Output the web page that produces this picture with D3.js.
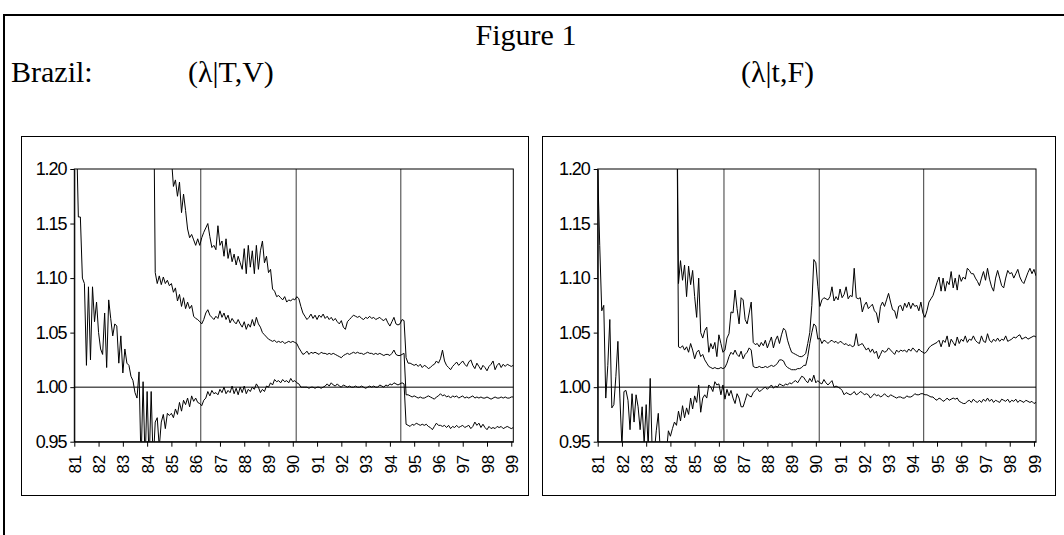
<!DOCTYPE html>
<html>
<head>
<meta charset="utf-8">
<script src="https://cdn.jsdelivr.net/npm/d3@7"></script>
<style>
  html, body { margin: 0; padding: 0; background: #fff; }
  svg { display: block; }
  .tick text { font-family: "Liberation Sans", Arial, sans-serif; }
</style>
</head>
<body>
<svg id="chart" width="1064" height="535"></svg>
<script>
// ---------- DATA ----------
const yearLabels = ["81","82","83","84","85","86","87","88","89","90","91","92","93","94","95","96","97","98","99"];
const yTickValues = [0.95, 1.00, 1.05, 1.10, 1.15, 1.20];
const yTickLabels = ["0.95", "1.00", "1.05", "1.10", "1.15", "1.20"];
const planDates = [1986.21, 1990.14, 1994.45];   // vertical reference lines
const firstYear = 1981;                           // monthly data, month 0 = 1981:01

// Left panel (λ|T,V): lower, middle, upper lines
const leftLowerStart = 0;
const leftLower = [1.30,1.24,1.156,1.156,1.10,1.095,1.02,1.092,1.025,1.092,
 1.06,1.078,1.05,1.035,1.03,1.068,1.018,1.08,1.063,1.047,
 1.058,1.056,1.022,1.047,1.013,1.035,1.022,1.02,1.01,1.006,
 0.995,0.99,1.014,0.93,1.005,0.93,0.996,0.93,0.996,0.93,
 0.968,0.972,0.945,0.968,0.975,0.962,0.976,0.974,0.976,0.972,
 0.98,0.975,0.986,0.978,0.988,0.984,0.99,0.982,0.992,0.987,
 0.99,0.986,0.985,0.983,0.988,0.99,0.996,0.992,0.997,0.994,
 0.995,0.993,0.998,0.995,1.0,0.994,0.997,0.995,1.001,0.994,
 0.999,0.993,1.0,0.995,1.001,0.994,0.998,0.996,1.0,0.998,
 1.003,1.0,0.995,0.998,0.996,1.001,1.0,1.004,1.002,1.007,
 1.005,1.006,1.004,1.007,1.005,1.006,1.004,1.008,1.005,1.006,
 1.004,1.003,1.0,1.0,1.0,1.0,0.999,1.0,1.0,0.999,
 1.0,1.0,0.999,1.0,1.001,1.003,1.001,1.004,1.002,1.001,
 1.003,1.001,1.0,1.002,1.001,1.0,1.001,1.0,1.0,1.001,
 1.0,1.0,1.001,1.0,0.999,1.0,1.001,1.0,1.001,1.0,
 1.0,1.002,1.001,1.0,1.002,1.001,1.003,1.002,1.004,1.003,
 1.002,1.003,1.004,1.003,0.966,0.965,0.964,0.966,0.965,0.967,
 0.966,0.965,0.966,0.965,0.966,0.964,0.963,0.961,0.964,0.967,
 0.965,0.965,0.964,0.965,0.963,0.965,0.962,0.964,0.963,0.965,
 0.963,0.964,0.965,0.963,0.964,0.965,0.962,0.964,0.968,0.965,
 0.967,0.963,0.966,0.963,0.961,0.964,0.962,0.963,0.962,0.964,
 0.963,0.964,0.962,0.963,0.964,0.963,0.962,0.963];
const leftMiddleStart = 39;
const leftMiddle = [1.32,1.105,1.095,1.102,1.094,1.101,1.095,1.098,1.093,1.095,
 1.087,1.091,1.079,1.085,1.074,1.082,1.072,1.078,1.072,1.075,
 1.065,1.063,1.062,1.06,1.058,1.062,1.068,1.071,1.066,1.064,
 1.062,1.065,1.063,1.07,1.064,1.068,1.062,1.066,1.059,1.063,
 1.06,1.058,1.062,1.058,1.055,1.06,1.053,1.058,1.055,1.062,
 1.056,1.064,1.058,1.055,1.05,1.048,1.046,1.044,1.043,1.042,
 1.043,1.041,1.042,1.041,1.042,1.04,1.041,1.042,1.041,1.042,
 1.041,1.04,1.036,1.033,1.03,1.031,1.033,1.03,1.032,1.031,
 1.032,1.031,1.03,1.032,1.031,1.031,1.03,1.031,1.03,1.031,
 1.03,1.029,1.028,1.027,1.029,1.03,1.031,1.03,1.031,1.032,
 1.031,1.032,1.031,1.031,1.03,1.031,1.032,1.031,1.031,1.03,
 1.031,1.03,1.031,1.03,1.029,1.03,1.03,1.029,1.031,1.034,
 1.03,1.029,1.029,1.03,1.031,0.993,0.993,0.992,0.991,0.992,
 0.991,0.99,0.991,0.99,0.99,0.991,0.992,0.991,0.99,0.989,
 0.991,0.992,0.994,0.992,0.993,0.991,0.992,0.99,0.992,0.991,
 0.992,0.99,0.991,0.992,0.99,0.991,0.99,0.991,0.992,0.99,
 0.991,0.99,0.991,0.99,0.99,0.991,0.99,0.989,0.99,0.991,
 0.99,0.99,0.991,0.99,0.991,0.99,0.99,0.991,0.991];
const leftUpperStart = 47;
const leftUpper = [1.30,1.21,1.184,1.19,1.175,1.188,1.16,1.177,1.162,1.145,
 1.137,1.14,1.135,1.13,1.136,1.13,1.137,1.142,1.146,1.15,
 1.138,1.128,1.13,1.126,1.148,1.13,1.134,1.12,1.136,1.118,
 1.127,1.115,1.122,1.112,1.12,1.114,1.108,1.127,1.104,1.13,
 1.11,1.125,1.104,1.13,1.108,1.125,1.134,1.114,1.12,1.105,
 1.108,1.09,1.088,1.083,1.084,1.082,1.08,1.083,1.078,1.08,
 1.079,1.081,1.08,1.083,1.081,1.074,1.068,1.065,1.062,1.064,
 1.067,1.063,1.066,1.062,1.066,1.064,1.067,1.063,1.065,1.062,
 1.064,1.061,1.063,1.06,1.058,1.061,1.055,1.053,1.06,1.062,
 1.064,1.066,1.065,1.064,1.065,1.063,1.062,1.064,1.063,1.065,
 1.063,1.064,1.062,1.063,1.064,1.062,1.061,1.063,1.059,1.056,
 1.06,1.064,1.058,1.057,1.058,1.062,1.061,1.027,1.022,1.022,
 1.021,1.02,1.021,1.019,1.021,1.018,1.02,1.019,1.017,1.018,
 1.02,1.021,1.024,1.022,1.026,1.034,1.024,1.02,1.018,1.016,
 1.019,1.021,1.023,1.02,1.022,1.024,1.021,1.019,1.023,1.025,
 1.02,1.017,1.022,1.019,1.016,1.02,1.018,1.015,1.019,1.021,
 1.024,1.016,1.02,1.022,1.018,1.021,1.019,1.021,1.02,1.019,
 1.02];

// Right panel (λ|t,F): lower, middle, upper lines
const rightLowerStart = 0;
const rightLower = [1.20,1.13,1.07,1.075,0.99,1.02,1.062,0.981,0.984,1.01,
 1.042,0.99,0.945,0.996,0.997,0.988,0.961,0.994,0.968,0.993,
 0.982,0.961,0.982,0.948,0.984,0.945,1.008,0.94,0.94,0.96,
 0.976,0.94,0.94,0.94,0.94,0.96,0.955,0.962,0.968,0.965,
 0.978,0.969,0.983,0.972,0.981,0.975,0.99,0.98,0.992,0.986,
 1.002,0.977,0.99,0.993,0.99,1.002,1.0,0.996,1.005,1.002,
 1.003,0.993,1.002,0.989,0.998,0.992,0.997,0.99,0.985,0.994,
 0.99,0.982,0.982,0.988,0.994,0.992,0.991,0.995,0.997,0.999,
 0.996,0.997,0.999,1.0,0.998,1.0,1.002,0.999,1.001,1.0,
 1.003,1.002,1.001,1.003,1.002,1.004,1.003,1.005,1.006,1.004,
 1.007,1.01,1.009,1.006,1.004,1.008,1.005,1.011,1.004,1.006,
 1.004,1.003,1.007,1.004,1.002,1.004,1.006,1.0,1.001,1.0,
 0.999,0.997,0.993,0.995,0.994,0.993,0.994,0.996,0.993,0.994,
 0.996,0.995,0.993,0.994,0.993,0.99,0.992,0.994,0.992,0.993,
 0.991,0.992,0.994,0.992,0.991,0.993,0.992,0.991,0.99,0.991,
 0.991,0.99,0.99,0.992,0.991,0.991,0.992,0.994,0.993,0.993,
 0.994,0.994,0.993,0.993,0.992,0.991,0.991,0.989,0.988,0.99,
 0.989,0.987,0.988,0.99,0.988,0.989,0.99,0.989,0.99,0.987,
 0.986,0.985,0.985,0.987,0.988,0.986,0.989,0.987,0.986,0.988,
 0.986,0.989,0.987,0.99,0.987,0.989,0.986,0.988,0.987,0.986,
 0.989,0.988,0.987,0.989,0.986,0.988,0.987,0.989,0.986,0.988,
 0.987,0.986,0.988,0.987,0.986,0.987,0.985,0.986];
const rightMiddleStart = 39;
const rightMiddle = [1.32,1.037,1.036,1.038,1.034,1.037,1.032,1.04,1.034,1.026,
 1.032,1.034,1.028,1.03,1.025,1.022,1.019,1.018,1.017,1.018,
 1.017,1.017,1.018,1.017,1.018,1.022,1.028,1.032,1.03,1.034,
 1.03,1.028,1.033,1.026,1.03,1.032,1.036,1.034,1.019,1.018,
 1.018,1.019,1.018,1.018,1.019,1.018,1.019,1.02,1.019,1.02,
 1.022,1.025,1.025,1.024,1.02,1.018,1.017,1.016,1.016,1.016,
 1.017,1.017,1.018,1.02,1.02,1.028,1.04,1.05,1.058,1.056,
 1.044,1.045,1.04,1.043,1.042,1.04,1.042,1.043,1.041,1.042,
 1.04,1.042,1.041,1.039,1.04,1.038,1.039,1.037,1.038,1.049,
 1.038,1.039,1.04,1.037,1.034,1.036,1.032,1.035,1.031,1.033,
 1.026,1.03,1.034,1.032,1.033,1.036,1.034,1.032,1.03,1.034,
 1.032,1.034,1.033,1.034,1.032,1.035,1.033,1.036,1.034,1.032,
 1.035,1.033,1.032,1.031,1.033,1.036,1.038,1.039,1.04,1.041,
 1.043,1.037,1.043,1.041,1.047,1.037,1.044,1.041,1.038,1.046,
 1.04,1.044,1.042,1.047,1.041,1.044,1.043,1.047,1.043,1.041,
 1.04,1.047,1.042,1.041,1.049,1.043,1.041,1.044,1.042,1.045,
 1.042,1.044,1.043,1.047,1.042,1.043,1.044,1.046,1.045,1.047,
 1.048,1.044,1.045,1.046,1.044,1.045,1.046,1.047,1.046];
const rightUpperStart = 39;
const rightUpper = [1.32,1.095,1.116,1.098,1.112,1.083,1.111,1.094,1.107,1.083,
 1.064,1.1,1.05,1.045,1.052,1.055,1.032,1.04,1.035,1.041,
 1.028,1.048,1.04,1.032,1.034,1.045,1.049,1.069,1.068,1.089,
 1.072,1.058,1.082,1.08,1.062,1.058,1.068,1.078,1.041,1.039,
 1.04,1.037,1.041,1.038,1.043,1.036,1.041,1.046,1.036,1.043,
 1.047,1.04,1.048,1.054,1.052,1.043,1.037,1.032,1.031,1.03,
 1.029,1.028,1.028,1.029,1.031,1.04,1.05,1.075,1.117,1.114,
 1.092,1.074,1.08,1.082,1.081,1.08,1.083,1.092,1.079,1.083,
 1.08,1.09,1.082,1.085,1.092,1.081,1.084,1.083,1.109,1.082,
 1.081,1.082,1.069,1.075,1.078,1.072,1.074,1.076,1.07,1.068,
 1.059,1.074,1.078,1.074,1.08,1.086,1.078,1.071,1.07,1.063,
 1.074,1.075,1.07,1.077,1.073,1.078,1.072,1.077,1.074,1.075,
 1.07,1.078,1.068,1.064,1.07,1.078,1.081,1.084,1.09,1.096,
 1.101,1.088,1.1,1.088,1.097,1.094,1.106,1.091,1.1,1.089,
 1.103,1.097,1.101,1.099,1.109,1.107,1.104,1.104,1.1,1.097,
 1.093,1.1,1.106,1.098,1.109,1.099,1.092,1.088,1.1,1.107,
 1.1,1.093,1.091,1.1,1.107,1.104,1.105,1.1,1.104,1.108,
 1.101,1.097,1.095,1.1,1.105,1.109,1.104,1.108,1.102];

// ---------- LAYOUT ----------
const svg = d3.select("#chart");
const serif = "'Liberation Serif', 'Times New Roman', serif";

// outer frame
svg.append("path")
  .attr("d", "M4,535 L4,15 L1064,15")
  .attr("fill", "none").attr("stroke", "#000").attr("stroke-width", 2);

const headerSize = 30;
svg.append("text").text("Figure 1")
  .attr("x", 526).attr("y", 45).attr("text-anchor", "middle")
  .attr("font-family", serif).attr("font-size", headerSize);
svg.append("text").text("Brazil:")
  .attr("x", 11).attr("y", 82)
  .attr("font-family", serif).attr("font-size", headerSize);
svg.append("text").text("(λ|T,V)")
  .attr("x", 188).attr("y", 82)
  .attr("font-family", serif).attr("font-size", headerSize);
svg.append("text").text("(λ|t,F)")
  .attr("x", 741).attr("y", 82)
  .attr("font-family", serif).attr("font-size", headerSize);

function series(start, values) {
  return values.map((v, k) => ({ t: firstYear + (start + k) / 12, v: v }));
}

const panels = [
  { box: [21, 136, 528, 495], plot: [74.3, 169, 513.3, 441.7],
    lines: [series(leftLowerStart, leftLower), series(leftMiddleStart, leftMiddle), series(leftUpperStart, leftUpper)] },
  { box: [542, 136, 1055, 495], plot: [597.7, 169, 1036, 441.7],
    lines: [series(rightLowerStart, rightLower), series(rightMiddleStart, rightMiddle), series(rightUpperStart, rightUpper)] }
];

const lastT = firstYear + (leftLowerStart + leftLower.length - 1) / 12;

panels.forEach((p, pi) => {
  const [bx0, by0, bx1, by1] = p.box;
  const [px0, py0, px1, py1] = p.plot;

  svg.append("rect")
    .attr("x", bx0 + 0.5).attr("y", by0 + 0.5)
    .attr("width", bx1 - bx0).attr("height", by1 - by0)
    .attr("fill", "none").attr("stroke", "#000").attr("stroke-width", 1);

  const x = d3.scaleLinear().domain([firstYear, lastT]).range([px0, px1]);
  const y = d3.scaleLinear().domain([0.95, 1.20]).range([py1, py0]);

  const g = svg.append("g");

  const clipId = "clip" + pi;
  g.append("clipPath").attr("id", clipId)
    .append("rect").attr("x", px0).attr("y", py0).attr("width", px1 - px0).attr("height", py1 - py0);

  // plan vertical lines
  g.selectAll(".plan").data(planDates).join("line")
    .attr("x1", d => x(d)).attr("x2", d => x(d))
    .attr("y1", py0).attr("y2", py1)
    .attr("stroke", "#3a3a3a").attr("stroke-width", 1);

  // reference line at 1.00
  g.append("line")
    .attr("x1", px0).attr("x2", px1).attr("y1", y(1.0)).attr("y2", y(1.0))
    .attr("stroke", "#000").attr("stroke-width", 1);

  const line = d3.line().x(d => x(d.t)).y(d => y(d.v));
  g.append("g").attr("clip-path", `url(#${clipId})`)
    .selectAll("path").data(p.lines).join("path")
    .attr("d", line)
    .attr("fill", "none").attr("stroke", "#000").attr("stroke-width", 1)
    .attr("stroke-linejoin", "miter");

  // plot frame
  g.append("rect")
    .attr("x", px0).attr("y", py0).attr("width", px1 - px0).attr("height", py1 - py0)
    .attr("fill", "none").attr("stroke", "#000").attr("stroke-width", 1);

  // y axis
  const yAxis = d3.axisLeft(y).tickValues(yTickValues)
    .tickFormat((d, i) => yTickLabels[i]).tickSize(4).tickPadding(5).tickSizeOuter(0);
  const ya = g.append("g").attr("transform", `translate(${px0},0)`).call(yAxis);
  ya.select(".domain").attr("stroke", "#000");
  ya.selectAll("text").attr("font-size", 18).attr("fill", "#000")
    .attr("letter-spacing", "-1.1px").attr("dx", "1px");

  // x axis
  const xTicks = yearLabels.map((s, i) => firstYear + i);
  const xAxis = d3.axisBottom(x).tickValues(xTicks)
    .tickFormat((d, i) => yearLabels[i]).tickSize(5).tickSizeOuter(0);
  const xa = g.append("g").attr("transform", `translate(0,${py1})`).call(xAxis);
  xa.select(".domain").attr("stroke", "#000");
  xa.selectAll("text")
    .attr("font-size", 17).attr("fill", "#000")
    .attr("text-anchor", "end")
    .attr("transform", "translate(0,13) rotate(-90)")
    .attr("x", 0).attr("y", 0).attr("dy", "0.36em");
});
</script>
</body>
</html>
